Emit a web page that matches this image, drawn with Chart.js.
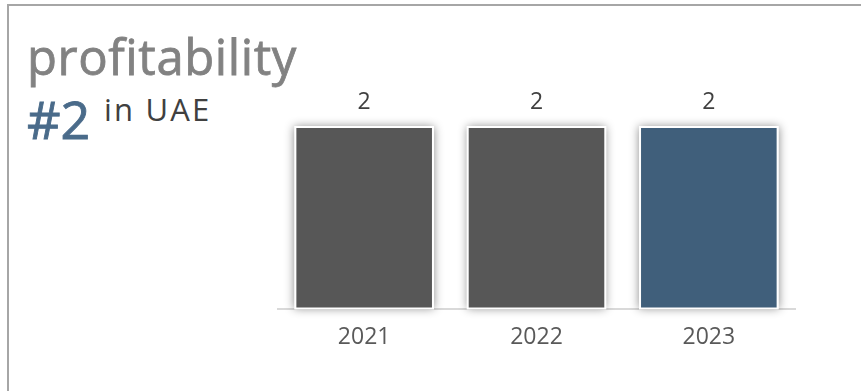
<!DOCTYPE html>
<html>
<head>
<meta charset="utf-8">
<script src="https://cdn.jsdelivr.net/npm/chart.js@4"></script>
<style>
  html, body { margin: 0; padding: 0; background: #fff; }
  #wrap { position: relative; width: 861px; height: 391px; overflow: hidden; font-family: "Open Sans", "Noto Sans", sans-serif; }
  #frame { position: absolute; left: 7px; top: 4px; width: 900px; height: 400px; border-left: 2px solid #a6a6a6; border-top: 2px solid #a6a6a6; box-sizing: border-box; }
  #title { position: absolute; left: 27px; top: 32px; font-size: 49px; color: #828282; letter-spacing: 0.6px; -webkit-text-stroke: 0.8px #828282; line-height: 1; }
  #rank { position: absolute; left: 27px; top: 93px; font-size: 52px; color: #4a6b8a; -webkit-text-stroke: 0.9px #4a6b8a; line-height: 1; }
  #where { position: absolute; left: 104px; top: 94px; font-size: 31px; color: #404040; letter-spacing: 2.2px; line-height: 1; }
  canvas { position: absolute; left: 0; top: 0; }
</style>
</head>
<body>
<div id="wrap">
  <div id="frame"></div>
  <div id="title">profitability</div>
  <div id="rank">#2</div>
  <div id="where">in UAE</div>
  <canvas id="c" width="861" height="391"></canvas>
</div>
<script>
const years = ["2021", "2022", "2023"];
const ranks = [2, 2, 2];
const barColors = ["#575757", "#575757", "#405f7b"];

// soft glow behind each bar, drawn before the bars themselves
const barShadow = {
  id: "barShadow",
  beforeDatasetsDraw(chart) {
    const ctx = chart.ctx;
    chart.getDatasetMeta(0).data.forEach(bar => {
      ctx.save();
      ctx.shadowColor = "rgba(0,0,0,0.45)";
      ctx.shadowBlur = 9;
      ctx.fillStyle = "#ffffff";
      ctx.fillRect(bar.x - bar.width / 2, bar.y, bar.width, bar.base - bar.y);
      ctx.restore();
    });
  }
};

// value printed above each bar
const valueLabels = {
  id: "valueLabels",
  afterDatasetsDraw(chart) {
    const ctx = chart.ctx;
    const ds = chart.data.datasets[0];
    ctx.save();
    ctx.font = '23px "Open Sans", "Noto Sans", sans-serif';
    ctx.fillStyle = "#404040";
    ctx.textAlign = "center";
    ctx.textBaseline = "middle";
    chart.getDatasetMeta(0).data.forEach((bar, i) => {
      ctx.fillText(String(ds.data[i]), bar.x, bar.y - 24);
    });
    ctx.restore();
  }
};

new Chart(document.getElementById("c"), {
  type: "bar",
  data: {
    labels: years,
    datasets: [{
      data: ranks,
      backgroundColor: barColors,
      borderColor: "#ffffff",
      borderWidth: 2,
      borderSkipped: false,
      categoryPercentage: 1,
      barPercentage: 0.81
    }]
  },
  options: {
    responsive: false,
    animation: false,
    layout: { padding: { left: 278, right: 66, top: 126, bottom: 26 } },
    plugins: { legend: { display: false }, tooltip: { enabled: false } },
    scales: {
      y: { display: false, min: 0, max: 2 },
      x: {
        grid: { display: false, drawTicks: false },
        border: { display: true, color: "#d9d9d9", width: 2 },
        ticks: {
          padding: 14,
          color: "#595959",
          font: { family: '"Open Sans", "Noto Sans", sans-serif', size: 23 }
        }
      }
    }
  },
  plugins: [barShadow, valueLabels]
});
</script>
</body>
</html>
